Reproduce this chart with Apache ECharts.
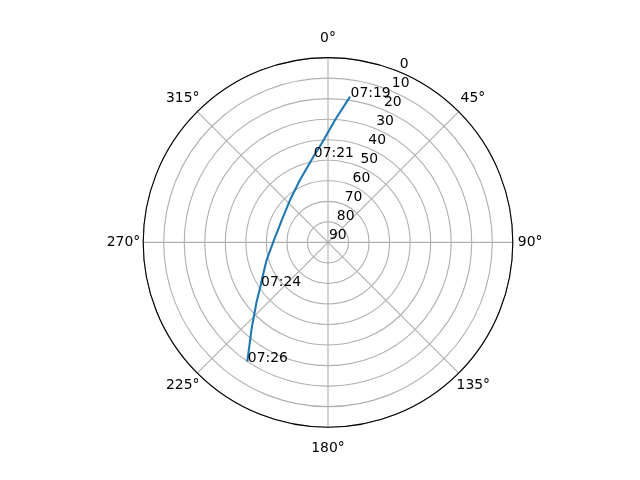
<!DOCTYPE html>
<html>
<head>
<meta charset="utf-8">
<script src="https://cdn.jsdelivr.net/npm/echarts@6/dist/echarts.min.js"></script>
<style>
html,body{margin:0;padding:0;background:#fff;}
#chart{width:640px;height:480px;}
</style>
</head>
<body>
<div id="chart"></div>
<script>
// Satellite pass track: elevation (deg) and azimuth (deg)
const elevation = [18.2, 30.3, 41.6, 47.7, 56.7, 62.3, 65.0, 63.4, 58.9, 52.9, 50.9, 44.8, 34.0, 19.9];
const azimuth   = [8.6, 3.3, 356.4, 350.3, 335.8, 318.1, 295.8, 270.7, 254.0, 240.4, 237.1, 230.3, 221.6, 214.1];
// Time annotations
const annotTimes = ['07:19', '07:21', '07:24', '07:26'];
const annotElev  = [18.2, 47.7, 50.9, 19.9];
const annotAzim  = [8.6, 350.3, 237.1, 214.1];
// Axis ticks
const angleTicks = [0, 45, 90, 135, 180, 225, 270, 315];
const angleTickLabels = ['0°', '45°', '90°', '135°', '180°', '225°', '270°', '315°'];
const radialTicks = [0, 10, 20, 30, 40, 50, 60, 70, 80, 90];

const FONT = 'DejaVu Sans';
const FS = 13.9;
const center = [328, 242.4];
const R = 184.8;

const lineData = elevation.map((e, i) => [e, azimuth[i]]);
const annotData = annotTimes.map((t, i) => [annotElev[i], annotAzim[i], t]);

const txt = {fontFamily: FONT, fontSize: FS, color: '#000'};
// per-direction label nudges
const labelRich = {
  a0:   Object.assign({padding: [0, 0, 15, 0]}, txt),
  a45:  Object.assign({padding: [0, 0, 8, 4]}, txt),
  a90:  Object.assign({padding: [0, 0, 0, 8]}, txt),
  a135: Object.assign({padding: [7, 0, 0, 0]}, txt),
  a180: Object.assign({padding: [17, 0, 0, 0]}, txt),
  a225: Object.assign({padding: [7, 0, 0, 0]}, txt),
  a270: Object.assign({padding: [0, 6, 0, 0]}, txt),
  a315: Object.assign({padding: [0, 0, 8, 0]}, txt)
};

const chart = echarts.init(document.getElementById('chart'), null, {renderer: 'canvas'});
chart.setOption({
  backgroundColor: '#ffffff',
  animation: false,
  polar: [
    {center: center, radius: R},
    {center: center, radius: R}
  ],
  angleAxis: [
    {
      polarIndex: 0, type: 'value', min: 0, max: 360, interval: 45,
      startAngle: 90, clockwise: true,
      axisLine: {show: true, lineStyle: {color: '#000', width: 1.1}},
      axisTick: {show: false},
      splitLine: {show: true, lineStyle: {color: '#b0b0b0', width: 1.1}},
      axisLabel: {
        show: true, margin: -3, color: '#000', fontFamily: FONT, fontSize: FS,
        formatter: function (v) {
          const i = angleTicks.indexOf(v);
          if (i < 0) return '';
          return '{a' + v + '|' + angleTickLabels[i] + '}';
        },
        rich: labelRich
      }
    },
    {
      polarIndex: 1, type: 'value', min: 0, max: 360,
      startAngle: 67.5, clockwise: true, show: false
    }
  ],
  radiusAxis: [
    {
      polarIndex: 0, type: 'value', min: 0, max: 90, interval: 10, inverse: true,
      axisLine: {show: false}, axisTick: {show: false}, axisLabel: {show: false},
      splitLine: {show: true, lineStyle: {color: '#b0b0b0', width: 1.1}}
    },
    {
      polarIndex: 1, type: 'value', min: 0, max: 90, interval: 10, inverse: true,
      axisLine: {show: false}, axisTick: {show: false}, splitLine: {show: false},
      axisLabel: {
        show: true, margin: 0, color: '#000', fontFamily: FONT, fontSize: FS,
        align: 'left', verticalAlign: 'bottom', hideOverlap: false,
        padding: [0, 0, 0, 1],
        showMinLabel: true, showMaxLabel: true,
        formatter: function (v) { return radialTicks.indexOf(v) >= 0 ? String(v) : ''; }
      }
    }
  ],
  series: [
    {
      type: 'line', coordinateSystem: 'polar', polarIndex: 0,
      data: lineData, showSymbol: false, symbol: 'none',
      lineStyle: {color: '#1f77b4', width: 2.1}, z: 5
    },
    {
      type: 'scatter', coordinateSystem: 'polar', polarIndex: 0,
      data: annotData, symbolSize: 1, itemStyle: {color: '#000', opacity: 0},
      label: {
        show: true, position: [1, 4], align: 'left', verticalAlign: 'bottom',
        color: '#000', opacity: 1, fontFamily: FONT, fontSize: FS,
        textBorderWidth: 0,
        formatter: function (p) { return p.value[2]; }
      },
      emphasis: {disabled: true},
      z: 6
    }
  ]
});
</script>
</body>
</html>
